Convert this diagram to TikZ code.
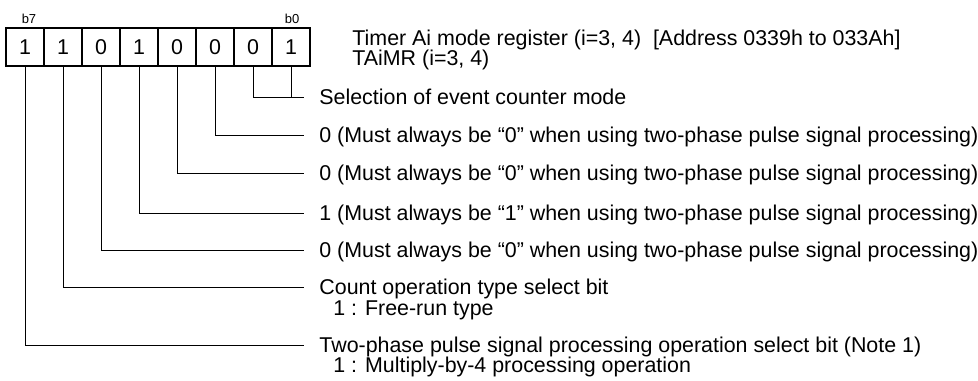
\documentclass[tikz,border=0pt]{standalone}
\usepackage{fontspec}
\setmainfont{Liberation Sans}
\usetikzlibrary{positioning}
\tikzset{
    bitbox/.style={draw, line width=1pt, minimum width=19pt, minimum height=19pt, inner sep=0pt, font=\fontsize{10.7}{12}\selectfont},
    bitno/.style={inner sep=0pt, font=\fontsize{6.5}{8}\selectfont},
    desc/.style={anchor=west, inner xsep=7.5pt, inner ysep=0pt, text height=7.6pt, text depth=0pt, font=\fontsize{10.7}{12}\selectfont},
    lead/.style={line width=0.5pt}
}

\begin{document}
\begin{tikzpicture}[x=0.5pt,y=-0.5pt]
\useasboundingbox (0,0) rectangle (978,380);
% register bits
\node[bitbox] (bit7) at ( 25,47) {1};
\node[bitbox] (bit6) at ( 63,47) {1};
\node[bitbox] (bit5) at (101,47) {0};
\node[bitbox] (bit4) at (139,47) {1};
\node[bitbox] (bit3) at (177,47) {0};
\node[bitbox] (bit2) at (215,47) {0};
\node[bitbox] (bit1) at (253,47) {0};
\node[bitbox] (bit0) at (291,47) {1};
\node[bitno] (no7) at ( 29,19) {b7};
\node[bitno] (no0) at (292,19) {b0};
% title
\node[desc,inner xsep=0pt] (title) at (352,38) {Timer Ai mode register (i=3, 4)\ \ [Address 0339h to 033Ah]};
\node[desc,inner xsep=0pt] (regname) at (352,58) {TAiMR (i=3, 4)};
% bit descriptions
\node[desc] (dsel) at (304, 97) {Selection of event counter mode};
\node[desc] (d2) at (304,135) {0 (Must always be “0” when using two-phase pulse signal processing)};
\node[desc] (d3) at (304,173) {0 (Must always be “0” when using two-phase pulse signal processing)};
\node[desc] (d4) at (304,213) {1 (Must always be “1” when using two-phase pulse signal processing)};
\node[desc] (d5) at (304,250) {0 (Must always be “0” when using two-phase pulse signal processing)};
\node[desc] (d6) at (304,287) {Count operation type select bit};
\node[desc] (d6val) at (318,308) {1 : Free-run type};
\node[desc] (d7) at (304,345) {Two-phase pulse signal processing operation select bit (Note 1)};
\node[desc] (d7val) at (318,365) {1 : Multiply-by-4 processing operation};
% leader lines
\draw[lead] (bit1.south) |- (dsel.west);
\draw[lead] (bit0.south) -- (bit0.south |- dsel.west);
\draw[lead] (bit2.south) |- (d2.west);
\draw[lead] (bit3.south) |- (d3.west);
\draw[lead] (bit4.south) |- (d4.west);
\draw[lead] (bit5.south) |- (d5.west);
\draw[lead] (bit6.south) |- (d6.west);
\draw[lead] (bit7.south) |- (d7.west);
\end{tikzpicture}
\end{document}
